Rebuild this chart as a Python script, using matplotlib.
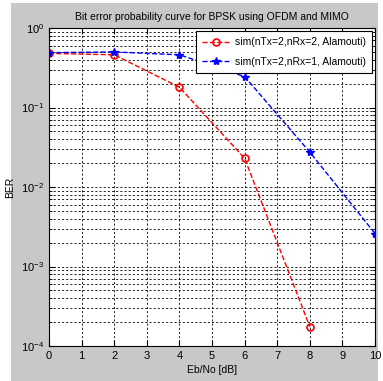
import numpy as np
import matplotlib.pyplot as plt
from matplotlib.patches import Rectangle

plt.rcParams['font.family'] = ['Liberation Sans', 'DejaVu Sans']
plt.rcParams['mathtext.fontset'] = 'custom'
plt.rcParams['mathtext.rm'] = 'Liberation Sans'
plt.rcParams['mathtext.it'] = 'Liberation Sans'

# simulated BER for the two antenna set-ups
ebno_rx2 = [0, 2, 4, 6, 8]
ber_rx2 = [0.48, 0.46, 0.18, 0.023, 1.75e-4]
ebno_rx1 = [0, 2, 4, 6, 8, 10]
ber_rx1 = [0.49, 0.5, 0.46, 0.245, 0.0275, 0.0026]

labels = ['sim(nTx=2,nRx=2, Alamouti)', 'sim(nTx=2,nRx=1, Alamouti)']
xticks = list(range(0, 11))

fig = plt.figure(figsize=(3.83, 3.81), dpi=100)
fig.patch.set_facecolor('white')
fig.patches.append(Rectangle((11 / 383, 0), 367 / 383, 378 / 381,
                             transform=fig.transFigure, facecolor='#c8c8c8',
                             edgecolor='none', zorder=-10))

ax = fig.add_axes([49 / 383, 35 / 381, 326 / 383, 318 / 381])
ax.set_facecolor('white')

ax.semilogy(ebno_rx2, ber_rx2, 'r--o', linewidth=1.0, markersize=5,
            markerfacecolor='none', markeredgewidth=1.2, label=labels[0])
ax.semilogy(ebno_rx1, ber_rx1, 'b--*', linewidth=1.0, markersize=6,
            label=labels[1])

ax.set_xlim(0, 10)
ax.set_ylim(1e-4, 1)
ax.set_xticks(xticks)

ax.grid(True, which='major', color='black', linestyle=(0, (2.5, 2.5)), linewidth=0.6)
ax.grid(True, which='minor', color='black', linestyle=(0, (2.5, 2.5)), linewidth=0.6)
ax.tick_params(which='both', direction='in', top=True, right=True, labelsize=8)
ax.tick_params(which='major', length=4)
ax.tick_params(which='minor', length=2)
for s in ax.spines.values():
    s.set_linewidth(0.8)

ax.set_title('Bit error probability curve for BPSK using OFDM and MIMO', fontsize=7.5, pad=6)
ax.set_xlabel('Eb/No [dB]', fontsize=7.5, labelpad=3)
ax.set_ylabel('BER', fontsize=7.5, labelpad=4)

leg = ax.legend(loc='upper right', fontsize=7.5, fancybox=False, framealpha=1,
                edgecolor='black', borderaxespad=0.3, handlelength=2.6,
                borderpad=0.6, labelspacing=0.9, handletextpad=0.5)
leg.get_frame().set_linewidth(0.8)

plt.savefig('out.png', dpi=100, facecolor=fig.get_facecolor())
